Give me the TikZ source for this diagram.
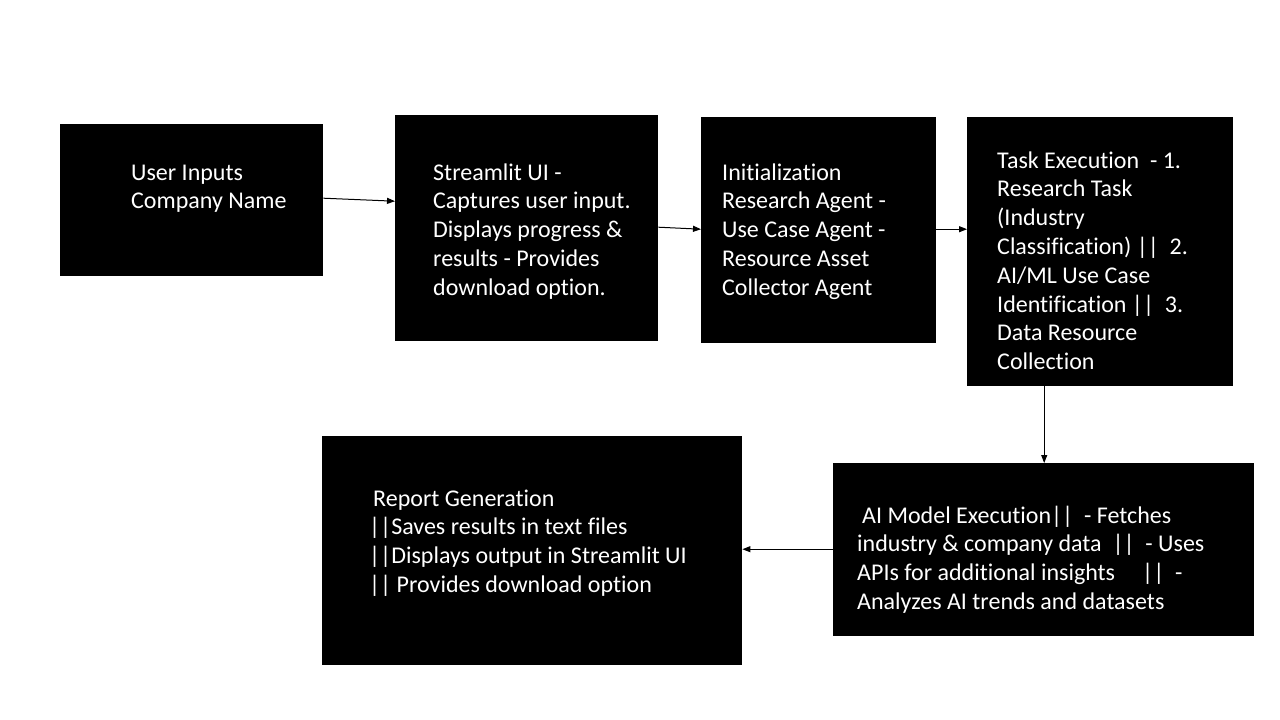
\documentclass[tikz,border=0pt]{standalone}
\usepackage{fontspec}
\setmainfont{Carlito}[Ligatures={NoCommon,NoDiscretionary,NoContextual}]
\usetikzlibrary{arrows.meta}
\begin{document}
\begin{tikzpicture}[x=1pt,y=-1pt,
  blk/.style={fill=black,draw=none,inner sep=0pt,anchor=north west},
  txt/.style={anchor=base west,inner sep=0pt,text=white,font=\fontsize{24}{28.8}\selectfont},
  arr/.style={draw=black,line width=1pt,-{Triangle[length=8pt,width=6pt]}}]
\useasboundingbox (0,0) rectangle (1280,720);
\fill[white] (0,0) rectangle (1280,720);
% boxes
\node[blk,minimum width=263pt,minimum height=152pt] (b1) at (60,124) {};
\node[blk,minimum width=263pt,minimum height=226pt] (b2) at (395,115) {};
\node[blk,minimum width=235pt,minimum height=226pt] (b3) at (701,117) {};
\node[blk,minimum width=266pt,minimum height=269pt] (b4) at (967,117) {};
\node[blk,minimum width=421pt,minimum height=173pt] (b5) at (833,463) {};
\node[blk,minimum width=420pt,minimum height=229pt] (b6) at (322,436) {};
% texts
\node[txt] (t1) at (131,180) {\parbox[t]{250pt}{\raggedright User Inputs\\Company Name}};
\node[txt] (t2) at (433,180) {\parbox[t]{250pt}{\raggedright Streamlit UI -\\Captures user input.\\Displays progress \&\\results - Provides\\download option.}};
\node[txt] (t3) at (722,180) {\parbox[t]{250pt}{\raggedright Initialization\\Research Agent -\\Use Case Agent -\\Resource Asset\\Collector Agent}};
\node[txt] (t4) at (997,168) {\parbox[t]{250pt}{\raggedright Task Execution\ \ - 1.\\Research Task\\(Industry\\Classification) ||\ \ 2.\\AI/ML Use Case\\Identification ||\ \ 3.\\Data Resource\\Collection}};
\node[txt] (t5) at (857,523) {\parbox[t]{400pt}{\raggedright \hspace*{5pt}AI Model Execution||\ \ - Fetches\\industry \& company data\ \ ||\ \ - Uses\\APIs for additional insights\ \ \ \ \ ||\ \ -\\Analyzes AI trends and datasets}};
\node[txt] (t6) at (369,506) {\parbox[t]{400pt}{\raggedright \hspace*{4pt}Report Generation\\||Saves results in text files\\||Displays output in Streamlit UI\\|| Provides download option}};
% connectors
\draw[arr] ([yshift=2pt]b1.east) -- ([yshift=27pt]b2.west);
\draw[arr] ([yshift=1pt]b2.east) -- ([yshift=1pt]b3.west);
\draw[arr] ([yshift=1pt]b3.east) -- ([yshift=22.5pt]b4.west);
\draw[arr] ([xshift=-56pt]b4.south) -- ([xshift=0.5pt]b5.north);
\draw[arr] ([yshift=0.5pt]b5.west) -- ([yshift=1.5pt]b6.east);
\end{tikzpicture}
\end{document}
